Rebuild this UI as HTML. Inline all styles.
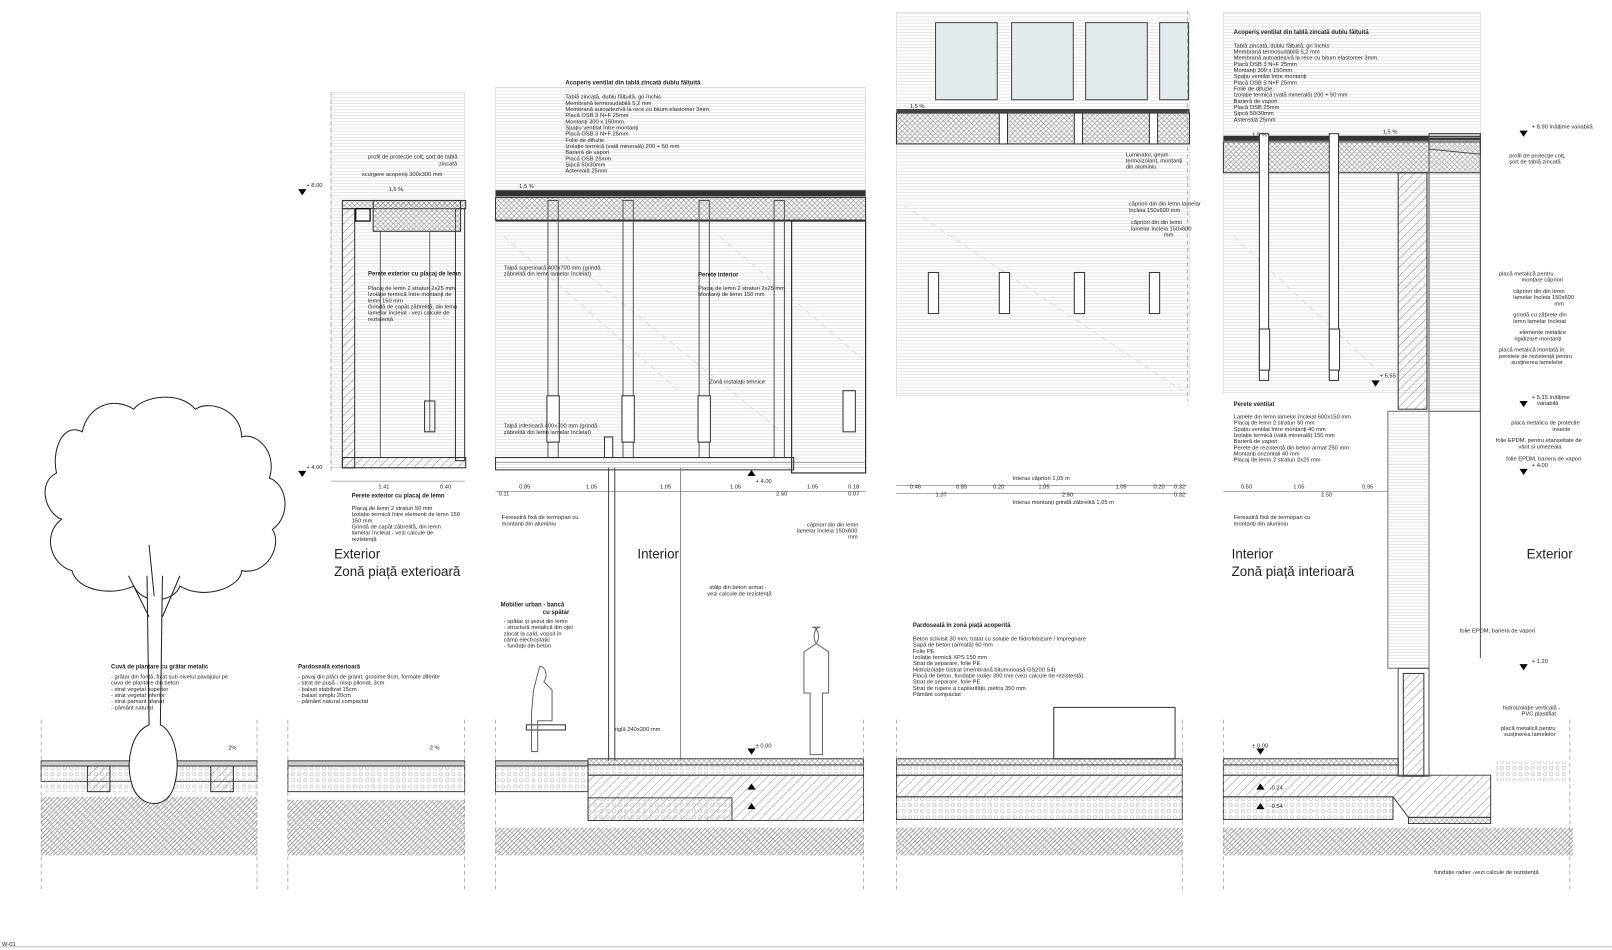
<!DOCTYPE html>
<html><head><meta charset="utf-8"><style>
html,body{margin:0;padding:0;background:#fff;}
svg{display:block;}
text{font-family:"Liberation Sans",sans-serif;fill:#222;}
.s{font-size:5.6px;}
.b{font-size:5.8px;font-weight:bold;}
.big{font-size:13px;}
</style></head><body>
<svg width="1612" height="950" viewBox="0 0 1568 924" preserveAspectRatio="none" xmlns="http://www.w3.org/2000/svg">
<defs>
<pattern id="h" width="6" height="6" patternUnits="userSpaceOnUse" patternTransform="rotate(45)"><line x1="0" y1="0" x2="0" y2="6" stroke="#777" stroke-width="0.8"/></pattern>
<pattern id="h2" width="8" height="8" patternUnits="userSpaceOnUse"><path d="M0 8L8 0M4 8L8 4M0 4L4 0" stroke="#888" stroke-width="0.8"/><path d="M0 0L8 8" stroke="#aaa" stroke-width="0.6"/></pattern>
<pattern id="x" width="5" height="5" patternUnits="userSpaceOnUse"><path d="M0 0L5 5M5 0L0 5" stroke="#888" stroke-width="0.5"/></pattern>
<pattern id="g" width="6" height="6" patternUnits="userSpaceOnUse"><circle cx="3" cy="3" r="1.6" fill="none" stroke="#aaa" stroke-width="0.5"/></pattern>
<pattern id="ln" width="8" height="3" patternUnits="userSpaceOnUse"><line x1="0" y1="1.5" x2="8" y2="1.5" stroke="#d4d4d4" stroke-width="0.6"/></pattern>
</defs>

<rect x="322" y="90" width="130" height="365" fill="url(#ln)" stroke="#ccc" stroke-width="0.5"/>
<rect x="482" y="85" width="360" height="370" fill="url(#ln)" stroke="#ccc" stroke-width="0.5"/>
<rect x="872" y="12" width="285" height="373" fill="url(#ln)" stroke="#ccc" stroke-width="0.5"/>
<rect x="1190" y="12" width="250" height="370" fill="url(#ln)" stroke="#ccc" stroke-width="0.5"/>
<g stroke="#ccc" stroke-width="0.6" stroke-dasharray="6,4"><line x1="490" y1="230" x2="660" y2="380"/><line x1="550" y1="250" x2="760" y2="420"/><line x1="700" y1="230" x2="840" y2="350"/><line x1="1200" y1="230" x2="1340" y2="360"/><line x1="880" y1="200" x2="1150" y2="380"/></g>

<!-- panel 2 wall -->
<rect x="333" y="195" width="120" height="8" fill="url(#x)" stroke="#333"/>
<rect x="333" y="203" width="12" height="252" fill="url(#h)" stroke="#333"/>
<rect x="333" y="445" width="120" height="10" fill="url(#h)" stroke="#333"/>
<rect x="443" y="203" width="9" height="245" fill="none" stroke="#333"/>
<rect x="363" y="195" width="85" height="30" fill="url(#x)" stroke="#333"/>
<line x1="370" y1="225" x2="370" y2="445" stroke="#666"/>
<line x1="418" y1="225" x2="418" y2="420" stroke="#666"/>
<rect x="413" y="390" width="10" height="30" fill="none" stroke="#333"/>
<rect x="346" y="203" width="14" height="12" fill="none" stroke="#000" stroke-width="1.2"/>
<!-- panel 3 -->
<rect x="482" y="185" width="360" height="6" fill="#333"/>
<rect x="482" y="192" width="360" height="22" fill="url(#x)" stroke="#333"/>
<line x1="482" y1="215" x2="842" y2="215" stroke="#333"/>
<g stroke="#555" fill="none"><rect x="533" y="195" width="10" height="250"/><rect x="606" y="195" width="10" height="250"/><rect x="680" y="195" width="10" height="250"/><rect x="753" y="195" width="10" height="250"/></g>
<g fill="#fff" stroke="#333"><rect x="532" y="385" width="12" height="45"/><rect x="605" y="385" width="12" height="45"/><rect x="679" y="385" width="12" height="45"/><rect x="820" y="380" width="12" height="40"/></g>
<rect x="770" y="215" width="72" height="245" fill="none" stroke="#333" stroke-width="1.2"/>
<rect x="482" y="445" width="290" height="12" fill="none" stroke="#333"/>
<rect x="588" y="425" width="8" height="20" fill="#fff" stroke="#333"/>
<line x1="592" y1="455" x2="592" y2="740" stroke="#444"/>
<line x1="598" y1="455" x2="598" y2="740" stroke="#444"/>
<line x1="662" y1="455" x2="662" y2="740" stroke="#888"/>
<!-- panel 4 -->
<g fill="#e3eaed" stroke="#444"><rect x="910" y="22" width="60" height="75"/><rect x="984" y="22" width="60" height="75"/><rect x="1056" y="22" width="60" height="75"/><rect x="1128" y="22" width="28" height="75"/></g>
<rect x="872" y="110" width="285" height="30" fill="url(#x)" stroke="#333"/>
<rect x="872" y="106" width="285" height="4" fill="#444"/>
<g fill="#fff" stroke="#333"><rect x="903" y="265" width="10" height="40"/><rect x="972" y="265" width="10" height="40"/><rect x="1045" y="265" width="10" height="40"/><rect x="1118" y="265" width="10" height="40"/><rect x="972" y="110" width="8" height="30"/><rect x="1045" y="110" width="8" height="30"/><rect x="1118" y="110" width="8" height="30"/></g>
<!-- panel 5 -->
<rect x="1190" y="132" width="250" height="5" fill="#333"/>
<rect x="1190" y="138" width="250" height="30" fill="url(#x)" stroke="#333"/>
<rect x="1360" y="168" width="28" height="230" fill="url(#h)" stroke="#333"/>
<rect x="1390" y="130" width="50" height="270" fill="url(#ln)" stroke="#555"/>
<line x1="1440" y1="130" x2="1440" y2="640" stroke="#555"/>
<g fill="#fff" stroke="#333"><rect x="1225" y="130" width="9" height="240"/><rect x="1293" y="130" width="9" height="240"/><rect x="1225" y="320" width="10" height="40"/><rect x="1293" y="320" width="10" height="40"/></g>
<rect x="1350" y="400" width="40" height="250" fill="url(#ln)" stroke="#777"/>
<rect x="1365" y="655" width="20" height="100" fill="url(#h)" stroke="#333"/>
<rect x="1360" y="650" width="30" height="105" fill="none" stroke="#555"/>
<path d="M1390 130 L1440 130 L1440 150 L1390 145Z" fill="none" stroke="#444"/>

<!-- ground panels -->
<g stroke="#333" stroke-width="0.9">
<rect x="40" y="740" width="210" height="5" fill="#ccc"/>
<rect x="40" y="745" width="210" height="15" fill="url(#g)"/>
<rect x="40" y="760" width="210" height="10" fill="url(#g)" stroke="none"/>
<rect x="280" y="740" width="172" height="5" fill="#ccc"/>
<rect x="280" y="745" width="172" height="25" fill="url(#g)"/>
<rect x="482" y="740" width="90" height="5" fill="#ccc"/>
<rect x="482" y="745" width="90" height="25" fill="url(#g)"/>
<rect x="572" y="738" width="268" height="6" fill="url(#x)"/>
<rect x="572" y="744" width="268" height="10" fill="url(#g)"/>
<path d="M572 754 L840 754 L840 798 L572 798Z" fill="url(#h)"/>
<rect x="572" y="776" width="140" height="22" fill="url(#g)"/>
<rect x="872" y="738" width="278" height="6" fill="url(#x)"/>
<rect x="872" y="744" width="278" height="10" fill="url(#g)"/>
<rect x="872" y="754" width="278" height="21" fill="url(#h)"/>
<rect x="872" y="775" width="278" height="22" fill="url(#g)"/>
<rect x="1190" y="738" width="170" height="6" fill="url(#x)"/>
<rect x="1190" y="744" width="170" height="10" fill="url(#g)"/>
<path d="M1190 754 L1450 754 L1450 795 L1370 795 L1355 775 L1190 775Z" fill="url(#h)"/>
<rect x="1190" y="775" width="165" height="22" fill="url(#g)"/>
<rect x="1370" y="795" width="80" height="6" fill="url(#x)"/>
<rect x="1455" y="740" width="70" height="20" fill="url(#g)" stroke="none"/>
</g>
<rect x="85" y="745" width="22" height="25" fill="url(#h)" stroke="#333"/>
<rect x="205" y="745" width="22" height="25" fill="url(#h)" stroke="#333"/>
<g fill="url(#h2)">
<rect x="40" y="775" width="210" height="57"/><rect x="280" y="778" width="172" height="54"/>
<rect x="482" y="805" width="358" height="27"/><rect x="872" y="805" width="278" height="27"/>
<rect x="1190" y="805" width="340" height="27"/>
</g>
<g stroke="#888" stroke-dasharray="4,3" stroke-width="0.6">
<line x1="40" y1="700" x2="40" y2="865"/><line x1="250" y1="700" x2="250" y2="865"/><line x1="280" y1="700" x2="280" y2="865"/><line x1="452" y1="700" x2="452" y2="865"/>
<line x1="482" y1="700" x2="482" y2="865"/><line x1="840" y1="700" x2="840" y2="865"/><line x1="872" y1="700" x2="872" y2="865"/><line x1="1150" y1="700" x2="1150" y2="865"/>
<line x1="1190" y1="700" x2="1190" y2="865"/><line x1="1527" y1="700" x2="1527" y2="865"/>
<line x1="322" y1="90" x2="322" y2="460"/><line x1="1155" y1="10" x2="1155" y2="390"/>
</g>
<line x1="0" y1="921" x2="1568" y2="921" stroke="#bbb"/>

<!-- tree -->
<path d="M80 420 C60 410 50 440 55 460 C35 470 45 500 60 505 C40 520 50 550 70 555 C75 575 110 580 130 570 C140 590 170 585 175 570 C200 585 235 570 235 555 C260 560 275 530 265 515 C285 500 278 470 262 465 C270 440 250 420 235 425 C235 400 205 388 190 398 C175 380 140 385 130 398 C110 385 85 395 80 420Z" fill="none" stroke="#222" stroke-width="1"/>
<path d="M143 560 L145 705 C128 712 122 740 128 762 C135 788 165 788 170 762 C176 740 170 712 156 705 L158 560" fill="#fff" stroke="#222"/>
<path d="M145 600 L125 560 M158 600 L175 560 M150 580 L145 530" stroke="#222" fill="none"/>

<rect x="512" y="705" width="38" height="5" fill="none" stroke="#333"/>
<rect x="1025" y="688" width="118" height="50" fill="none" stroke="#333"/>
<path d="M790 610 c6 0 8 10 4 16 l12 8 l0 40 l-6 0 l0 60 l-12 0 l0 -60 l-6 0 l0-40 l12-8 c-4-6-2-16 4-16z" fill="none" stroke="#666"/>
<path d="M525 648 c6 0 8 10 4 15 l8 8 l0 30 l-14 0 l0 30 l-6 0 l0 -38 l2 -22 z" fill="none" stroke="#666"/>

<text class="big" x="325" y="543">Exterior</text>
<text class="big" x="325" y="560">Zonă piață exterioară</text>
<text class="big" x="620" y="543">Interior</text>
<text class="big" x="1198" y="543">Interior</text>
<text class="big" x="1198" y="560">Zonă piață interioară</text>
<text class="big" x="1485" y="543">Exterior</text>
<text class="s" x="2" y="920">W-01</text>

<text class="b" x="550" y="82">Acoperiș ventilat din tablă zincată dublu fălțuită</text>
<g class="s"><text x="550" y="96">Tablă zincată, dublu fălțuită, gri închis</text><text x="550" y="102">Membrană termosudabilă  5,2 mm</text><text x="550" y="108">Membrană autoadezivă la rece cu bitum elastomer 3mm.</text><text x="550" y="114">Placă OSB 3 N+F  25mm</text><text x="550" y="120">Montanți 300 x 150mm.</text><text x="550" y="126">Spațiu ventilat între montanți</text><text x="550" y="132">Placă OSB 3 N+F  25mm</text><text x="550" y="138">Folie de difuzie.</text><text x="550" y="144">Izolație termică (vată minerală) 200 + 50 mm</text><text x="550" y="150">Barieră de vapori</text><text x="550" y="156">Placă OSB 25mm</text><text x="550" y="162">Șipcă 50/30mm</text><text x="550" y="168">Asterealǎ  25mm</text>
<text x="505" y="183">1,5 %</text>
<text x="490" y="262">Talpă superioară 400x700 mm (grindă</text><text x="490" y="268">zăbrelită din lemn lamelar încleiat)</text>
<text x="490" y="416">Talpă inferioară 400x700 mm (grindă</text><text x="490" y="422">zăbrelită din lemn lamelar încleiat)</text>
<text x="690" y="373">Zonă instalații tehnice</text>
<text x="488" y="505">Fereastră fixă de termopan cu</text><text x="488" y="511">montanți din aluminiu</text>
<text x="785" y="512">căpriori din din lemn</text><text x="775" y="518">lamelar încleia 150x600</text><text x="825" y="524">mm</text>
<text x="690" y="573">stâlp din beton armat -</text><text x="688" y="579">vezi calcule de rezistență</text>
<text x="598" y="711">riglă 240x200 mm</text>
<text x="735" y="727">± 0.00</text><text x="735" y="470">+ 4.00</text>
</g>
<text class="b" x="679" y="269">Perete interior</text>
<g class="s"><text x="679" y="282">Placaj de lemn 2 straturi 2x25 mm</text><text x="679" y="288">Montanți de lemn 150 mm</text></g>
<text class="b" x="487" y="590">Mobilier urban - bancă</text><text class="b" x="528" y="597">cu spătar</text>
<g class="s"><text x="490" y="606">- spătar și șezut din lemn</text><text x="490" y="612">- structură metalică din oțel</text><text x="490" y="618">zincat la cald, vopsit în</text><text x="490" y="624">câmp electrostatic</text><text x="490" y="630">- fundații din beton</text></g>

<g class="s"><text x="358" y="154">profil de protecție colț, șorț de tablă</text><text x="427" y="161">zincată</text><text x="352" y="171">scurgere acoperiș 300x300 mm</text><text x="378" y="186">1,5 %</text><text x="298" y="182">+ 8.00</text><text x="298" y="456">+ 4.00</text></g>
<text class="b" x="358" y="268">Perete exterior cu placaj de lemn</text>
<g class="s"><text x="358" y="282">Placaj de lemn 2 straturi 2x25 mm</text><text x="358" y="288">Izolație termică între montanți de</text><text x="358" y="294">lemn 150 mm</text><text x="358" y="300">Grindă de capăt zăbrelită, din lemn</text><text x="358" y="306">lamelar încleiat - vezi calcule de</text><text x="358" y="312">rezistență</text></g>
<text class="b" x="342" y="484">Perete exterior cu placaj de lemn</text>
<g class="s"><text x="342" y="496">Placaj de lemn 2 straturi 50 mm</text><text x="342" y="502">Izolație termică între elementi de lemn 150</text><text x="342" y="508">150 mm</text><text x="342" y="514">Grindă de capăt zăbrelită, din lemn</text><text x="342" y="520">lamelar încleiat - vezi calcule de</text><text x="342" y="526">rezistență</text></g>
<text class="b" x="108" y="650">Cuvă de plantare cu grătar metalic</text>
<g class="s"><text x="108" y="660">- grătar din fontă, fixat sub nivelul pavajului pe</text><text x="108" y="666">cuva de plantare din beton</text><text x="108" y="672">- strat vegetal superior</text><text x="108" y="678">- strat vegetal inferior</text><text x="108" y="684">- strat pamant afanat</text><text x="108" y="690">- pământ natural</text><text x="222" y="729">2%</text></g>
<text class="b" x="290" y="650">Pardoseală exterioară</text>
<g class="s"><text x="290" y="660">- pavaj din plăci de granit, grosime 8cm, formate diferite</text><text x="290" y="666">- strat de pușă - nisip pilonat, 3cm</text><text x="290" y="672">- balast stabilizat 15cm</text><text x="290" y="678">- balast simplu 20cm</text><text x="290" y="684">- pământ natural compactat</text><text x="418" y="729">2 %</text></g>

<text class="b" x="888" y="610">Pardoseală în zonă piață acoperită</text>
<g class="s"><text x="888" y="623">Beton sclivisit 30 mm, tratat cu soluție de hidrofobizare / impregnare</text><text x="888" y="629">Șapă de beton (armată) 60 mm</text><text x="888" y="635">Folie PE</text><text x="888" y="641">Izolație termică XPS 150 mm</text><text x="888" y="647">Strat de separare, folie PE</text><text x="888" y="653">Hidroizolație bistrat (membrană bituminoasă GS200 S4)</text><text x="888" y="659">Placă de beton, fundație radier 300 mm (vezi calcule de rezistență)</text><text x="888" y="665">Strat de separare, folie PE</text><text x="888" y="671">Strat de rupere a capilarității, pietriș 350 mm</text><text x="888" y="677">Pământ compactat</text>
<text x="885" y="105">1,5 %</text>
<text x="1095" y="152">Luminator, geam</text><text x="1095" y="158">termoizolant, montanți</text><text x="1095" y="164">din aluminiu</text>
<text x="1098" y="200">căpriori din din lemn lamelar</text><text x="1098" y="206">încleia 150x600 mm</text>
<text x="1100" y="218">căpriori din din lemn</text><text x="1100" y="224">lamelar încleia 150x600</text><text x="1132" y="230">mm</text>
<text x="985" y="467">Interax căpriori 1,05 m</text><text x="985" y="490">Interax montanți grindă zăbrelită  1,05 m</text></g>

<text class="b" x="1200" y="33">Acoperiș ventilat din tablă zincată dublu fălțuită</text>
<g class="s"><text x="1200" y="46">Tablă zincată, dublu fălțuită, gri închis</text><text x="1200" y="52">Membrană termosudabilă  5,2 mm</text><text x="1200" y="58">Membrană autoadezivă la rece cu bitum elastomer 3mm.</text><text x="1200" y="64">Placă OSB 3 N+F  25mm</text><text x="1200" y="70">Montanți 300 x 150mm.</text><text x="1200" y="76">Spațiu ventilat între montanți</text><text x="1200" y="82">Placă OSB 3 N+F  25mm</text><text x="1200" y="88">Folie de difuzie.</text><text x="1200" y="94">Izolație termică (vată minerală) 200 + 50 mm</text><text x="1200" y="100">Barieră de vapori</text><text x="1200" y="106">Placă OSB 25mm</text><text x="1200" y="112">Șipcă 50/30mm</text><text x="1200" y="118">Asterealǎ  25mm</text><text x="1218" y="133">1,5 %</text><text x="1345" y="130">1,5 %</text>
<text x="1490" y="125">+ 8.90 înălțime variabilă</text>
<text x="1468" y="153">profil de protecție colț,</text><text x="1468" y="159">șorț de tablă zincată</text>
<text x="1458" y="268">placă metalică pentru</text><text x="1480" y="274">montare căpriori</text>
<text x="1472" y="285">căpriori din din lemn</text><text x="1472" y="291">lamelar încleia 150x600</text><text x="1512" y="297">mm</text>
<text x="1472" y="308">grindă cu zăbrele din</text><text x="1472" y="314">lemn lamelar încleiat</text>
<text x="1478" y="325">elemente metalice</text><text x="1473" y="331">rigidizare montanți</text>
<text x="1458" y="342">placă metalică montată în</text><text x="1458" y="348">peretele de rezistență pentru</text><text x="1470" y="354">susținerea lamelelor</text>
<text x="1342" y="367">+ 5.55</text>
<text x="1490" y="388">+ 5.15 înălțime</text><text x="1495" y="394">variabilă</text>
<text x="1470" y="413">placa metalica de protectie</text><text x="1510" y="419">insecte</text>
<text x="1455" y="430">folie EPDM, pentru etanșeitate de</text><text x="1477" y="436">vânt si umezeala</text>
<text x="1465" y="448">folie EPDM, bariera de vapori</text><text x="1490" y="454">+ 4.00</text>
<text x="1200" y="505">Fereastră fixă de termopan cu</text><text x="1200" y="511">montanți din aluminiu</text>
<text x="1420" y="615">folie EPDM, bariera de vapori</text><text x="1490" y="645">+ 1.20</text>
<text x="1462" y="690">hidroizolație verticală -</text><text x="1480" y="696">PVC plastifiat</text>
<text x="1460" y="710">placă metalică pentru</text><text x="1463" y="716">susținerea lamelelor</text>
<text x="1218" y="727">± 0.00</text><text x="1235" y="768">-0.24</text><text x="1235" y="786">-0.54</text>
<text x="1395" y="850">fundație radier -vezi calcule de rezistență</text></g>
<text class="b" x="1200" y="395">Perete ventilat</text>
<g class="s"><text x="1200" y="407">Lamele din lemn lamelar încleiat 600x150 mm</text><text x="1200" y="413">Placaj de lemn 2 straturi 50 mm</text><text x="1200" y="419">Spațiu ventilat între montanți 40 mm</text><text x="1200" y="425">Izolație termică (vată minerală) 150 mm</text><text x="1200" y="431">Barieră de vapori</text><text x="1200" y="437">Perete de rezistență din beton armat 250 mm</text><text x="1200" y="443">Montanți orizontali 40 mm</text><text x="1200" y="449">Placaj de lemn 2 straturi 2x25 mm</text></g>

<g fill="#000"><path d="M727 463 l4 -6 l4 6z"/><path d="M727 728 l4 6 l4 -6z"/><path d="M1222 728 l4 6 l4 -6z"/><path d="M1222 768 l4 -6 l4 6z"/><path d="M1222 787 l4 -6 l4 6z"/><path d="M727 768 l4 -6 l4 6z"/><path d="M727 787 l4 -6 l4 6z"/><path d="M1334 370 l4 6 l4 -6z"/><path d="M1478 390 l4 6 l4 -6z"/><path d="M1478 456 l4 6 l4 -6z"/><path d="M1478 646 l4 6 l4 -6z"/><path d="M1478 127 l4 6 l4 -6z"/><path d="M290 184 l4 6 l4 -6z"/><path d="M290 458 l4 6 l4 -6z"/></g>

<g stroke="#555" stroke-width="0.5">
<line x1="322" y1="468" x2="452" y2="468"/><line x1="482" y1="450" x2="842" y2="450"/><line x1="482" y1="478" x2="842" y2="478"/>
<line x1="872" y1="472" x2="1155" y2="472"/><line x1="872" y1="480" x2="1155" y2="480"/><line x1="1190" y1="478" x2="1350" y2="478"/>
</g>
<g class="s"><text x="368" y="475">1.41</text><text x="428" y="475">0.40</text><text x="505" y="475">0.85</text><text x="570" y="475">1.05</text><text x="642" y="475">1.05</text><text x="710" y="475">1.05</text><text x="785" y="475">1.05</text><text x="825" y="475">0.18</text><text x="485" y="482">0.11</text><text x="755" y="482">2.50</text><text x="825" y="482">0.07</text>
<text x="885" y="475">0.46</text><text x="930" y="475">0.85</text><text x="966" y="475">0.20</text><text x="1010" y="475">1.05</text><text x="1085" y="475">1.05</text><text x="1122" y="475">0.20</text><text x="1142" y="475">0.32</text><text x="910" y="483">1.37</text><text x="1033" y="483">2.50</text><text x="1142" y="483">0.32</text>
<text x="1207" y="475">0.50</text><text x="1258" y="475">1.05</text><text x="1325" y="475">0.95</text><text x="1285" y="483">2.50</text></g>
</svg>
</body></html>
